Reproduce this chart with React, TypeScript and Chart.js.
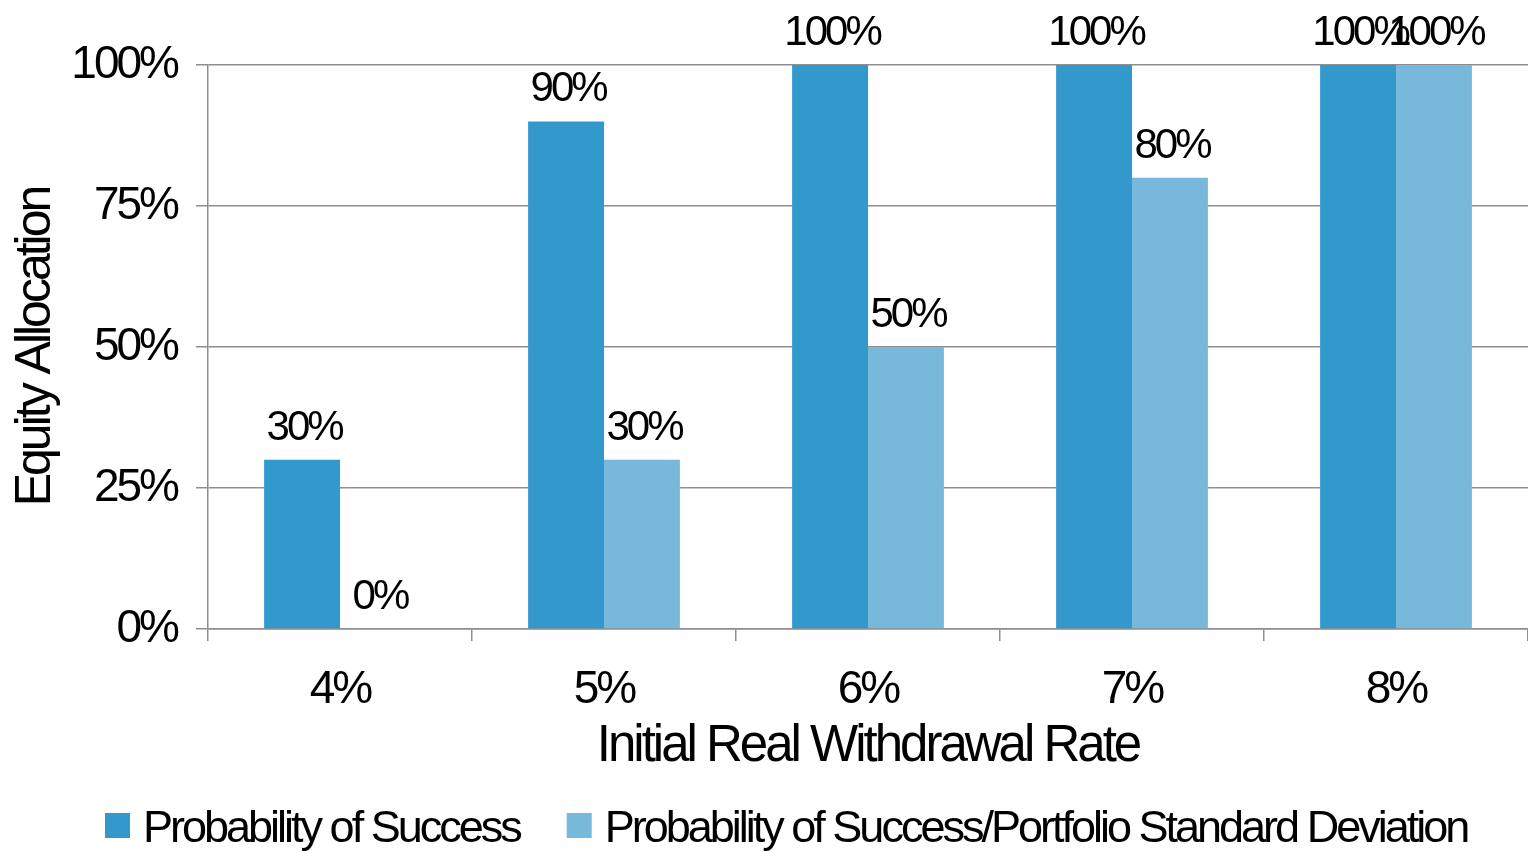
import React, { useEffect, useRef } from 'react';
import { Chart, registerables } from 'chart.js';

Chart.register(...registerables);

const categories = ['4%', '5%', '6%', '7%', '8%'];
const successValues = [30, 90, 100, 100, 100];
const ratioValues = [0, 30, 50, 80, 100];
const seriesLabels = [
  'Probability of Success',
  'Probability of Success/Portfolio Standard Deviation',
];
const seriesColors = ['#3399CC', '#77B8DB'];
const yAxisTitle = 'Equity Allocation';
const xAxisTitle = 'Initial Real Withdrawal Rate';

const FONT = '"Liberation Sans", Arial, sans-serif';
const GRID = '#8e8e8e';

const spacingPlugin = {
  id: 'spacing',
  beforeUpdate(chart: any) {
    chart.ctx.letterSpacing = '-3px';
  },
  beforeDraw(chart: any) {
    chart.ctx.letterSpacing = '-3px';
  },
};

const valueLabelPlugin = {
  id: 'valueLabels',
  afterDatasetsDraw(chart: any) {
    const ctx = chart.ctx;
    ctx.save();
    ctx.letterSpacing = '-3px';
    ctx.font = `42px ${FONT}`;
    ctx.fillStyle = '#000';
    ctx.textAlign = 'center';
    ctx.textBaseline = 'alphabetic';
    chart.data.datasets.forEach((ds: any, di: number) => {
      const meta = chart.getDatasetMeta(di);
      meta.data.forEach((el: any, i: number) => {
        ctx.fillText(`${ds.data[i]}%`, el.x + 2, el.y - 20);
      });
    });
    ctx.restore();
  },
};

const legendPlugin = {
  id: 'bottomLegend',
  afterDraw(chart: any) {
    const ctx = chart.ctx;
    ctx.save();
    ctx.letterSpacing = '-3px';
    ctx.font = `45px ${FONT}`;
    ctx.textAlign = 'left';
    ctx.textBaseline = 'alphabetic';
    let x = 105;
    const boxTop = 813;
    const box = 25;
    chart.data.datasets.forEach((ds: any) => {
      ctx.fillStyle = ds.backgroundColor;
      ctx.fillRect(x, boxTop, box, box);
      ctx.fillStyle = '#000';
      const tx = x + 38;
      ctx.fillText(ds.label, tx, 842);
      x = tx + ctx.measureText(ds.label).width + 47;
    });
    ctx.restore();
  },
};

export default function App() {
  const ref = useRef<HTMLCanvasElement | null>(null);

  useEffect(() => {
    if (!ref.current) return;
    const chart = new Chart(ref.current, {
      type: 'bar',
      data: {
        labels: categories,
        datasets: [
          {
            label: seriesLabels[0],
            data: successValues,
            backgroundColor: seriesColors[0],
            categoryPercentage: 0.575,
            barPercentage: 1,
          },
          {
            label: seriesLabels[1],
            data: ratioValues,
            backgroundColor: seriesColors[1],
            categoryPercentage: 0.575,
            barPercentage: 1,
          },
        ],
      },
      options: {
        responsive: false,
        animation: false,
        devicePixelRatio: 1,
        layout: { padding: { top: 65, right: 0, bottom: 70, left: 0 } },
        plugins: {
          legend: { display: false },
          tooltip: { enabled: false },
        },
        scales: {
          x: {
            grid: {
              drawOnChartArea: false,
              drawTicks: true,
              tickLength: 12,
              color: GRID,
              lineWidth: 1.5,
            },
            border: { display: true, color: GRID, width: 1.5 },
            ticks: {
              color: '#000',
              font: { family: FONT, size: 46 },
              padding: 22,
            },
            title: {
              display: true,
              text: xAxisTitle,
              color: '#000',
              font: { family: FONT, size: 51 },
              padding: { top: 0, bottom: 4 },
            },
            afterFit(scale: any) {
              scale.height = 153;
            },
          },
          y: {
            min: 0,
            max: 100,
            ticks: {
              stepSize: 25,
              color: '#000',
              font: { family: FONT, size: 46 },
              padding: 19,
              callback: (v: any) => `${v}%`,
            },
            grid: {
              color: GRID,
              lineWidth: 1.5,
              drawTicks: true,
              tickLength: 12,
            },
            border: { display: true, color: GRID, width: 1.5 },
            title: {
              display: true,
              text: yAxisTitle,
              color: '#000',
              font: { family: FONT, size: 50 },
              padding: { top: 6, bottom: 0 },
            },
            afterFit(scale: any) {
              scale.width = 208;
            },
          },
        },
      },
      plugins: [spacingPlugin, valueLabelPlugin, legendPlugin],
    });
    return () => chart.destroy();
  }, []);

  return (
    <div style={{ position: 'absolute', left: 0, top: 0, width: 1528, height: 852, background: '#fff' }}>
      <canvas ref={ref} width={1528} height={852} style={{ display: 'block' }} />
    </div>
  );
}
